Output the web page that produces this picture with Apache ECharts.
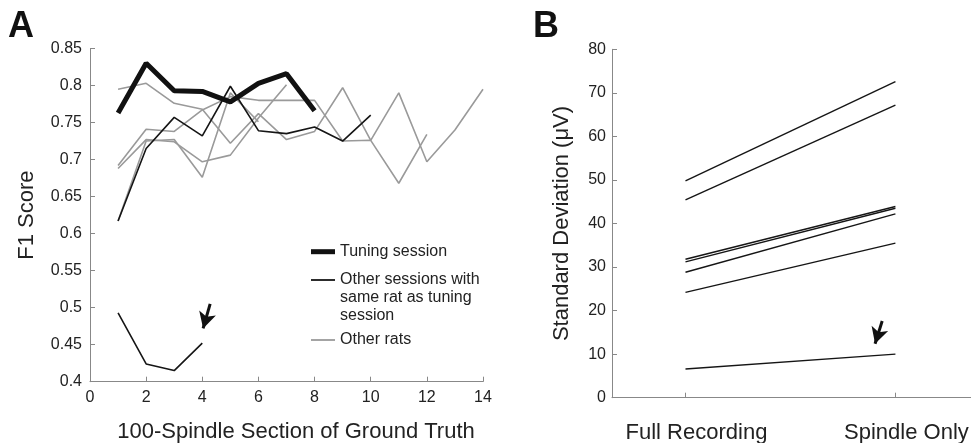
<!DOCTYPE html>
<html>
<head>
<meta charset="utf-8">
<script src="https://cdn.jsdelivr.net/npm/echarts@6/dist/echarts.min.js"></script>
<style>
  html, body { margin: 0; padding: 0; background: #fff; }
  #chart { width: 971px; height: 443px; }
</style>
</head>
<body>
<div id="chart"></div>
<script>
// panel A: F1 score per 100-spindle section
const tuning = [0.763, 0.830, 0.793, 0.792, 0.778, 0.803, 0.816, 0.766];
const sameRatA = [0.617, 0.715, 0.757, 0.732, 0.799, 0.739, 0.735, 0.744, 0.725, 0.760];
const sameRatB = [0.493, 0.424, 0.415, 0.452];
const otherRat1 = [0.795, 0.803, 0.776, 0.768, 0.722, 0.762, 0.727, 0.738, 0.797, 0.726, 0.790, 0.697, 0.740, 0.795];
const otherRat2 = [0.692, 0.741, 0.738, 0.767, 0.785, 0.780, 0.780, 0.780, 0.725, 0.726, 0.668, 0.734];
const otherRat3 = [0.688, 0.727, 0.724, 0.697, 0.706, 0.756, 0.801];
const otherRat4 = [0.617, 0.725, 0.727, 0.676, 0.790, 0.751];

// panel B: standard deviation, full recording vs spindle only
const conditions = ['Full Recording', 'Spindle Only'];
const fullRecording = [49.8, 45.4, 31.8, 31.2, 28.8, 24.2, 6.6];
const spindleOnly = [72.6, 67.2, 43.9, 43.5, 42.2, 35.5, 10.0];

const FONT = '"Liberation Sans", Arial, sans-serif';
const TEXT = '#222';
const AXIS = '#888';

const legendNames = ['Tuning session', 'Other sessions with same rat as tuning session', 'Other rats'];

function pts(arr) {
    return arr.map((v, i) => [i + 1, v]);
}

function lineA(name, data, color, width) {
    return {
        name: name,
        type: 'line',
        xAxisIndex: 0,
        yAxisIndex: 0,
        data: pts(data),
        symbol: 'none',
        lineStyle: {color: color, width: width},
        itemStyle: {color: color},
        silent: true
    };
}

function arrowLine(from, to) {
    return {
        silent: true,
        symbol: ['none', 'arrow'],
        symbolSize: [13, 16],
        label: {show: false},
        lineStyle: {color: '#111', width: 3, type: 'solid'},
        data: [[{coord: from}, {coord: to}]]
    };
}

const axisCommon = {
    axisLine: {show: true, lineStyle: {color: AXIS, width: 1}},
    axisTick: {show: true, inside: true, length: 5, lineStyle: {color: AXIS}},
    splitLine: {show: false},
    axisLabel: {color: TEXT, fontSize: 16, fontFamily: FONT},
    nameTextStyle: {color: TEXT, fontSize: 22, fontFamily: FONT}
};

const series = [
    lineA(legendNames[2], otherRat1, '#9a9a9a', 1.6),
    lineA(legendNames[2], otherRat2, '#9a9a9a', 1.6),
    lineA(legendNames[2], otherRat3, '#9a9a9a', 1.6),
    lineA(legendNames[2], otherRat4, '#9a9a9a', 1.6),
    lineA(legendNames[1], sameRatA, '#151515', 1.6),
    Object.assign(lineA(legendNames[1], sameRatB, '#151515', 1.6), {
        markLine: arrowLine([4.28, 0.505], [4.03, 0.472])
    }),
    lineA(legendNames[0], tuning, '#111', 5)
];

fullRecording.forEach((v, i) => {
    const s = {
        name: 'Rat ' + (i + 1),
        type: 'line',
        xAxisIndex: 1,
        yAxisIndex: 1,
        data: [[1, v], [2, spindleOnly[i]]],
        symbol: 'none',
        lineStyle: {color: '#151515', width: 1.4},
        silent: true
    };
    if (i === fullRecording.length - 1) {
        s.markLine = arrowLine([1.937, 17.6], [1.903, 12.4]);
    }
    series.push(s);
});

function legendBox(name, top, barHeight, extra) {
    return Object.assign({
        data: [{name: name, icon: 'rect'}],
        orient: 'vertical',
        left: 311,
        top: top,
        padding: 0,
        itemWidth: 24,
        itemHeight: barHeight,
        selectedMode: false,
        textStyle: {color: TEXT, fontSize: 16, fontFamily: FONT, lineHeight: 18}
    }, extra || {});
}

const chart = echarts.init(document.getElementById('chart'), null, {renderer: 'canvas'});

chart.setOption({
    animation: false,
    backgroundColor: '#fff',
    title: [
        {text: 'A', left: 8, top: 9, padding: 0, textStyle: {fontSize: 36, fontWeight: 'bold', color: '#111', fontFamily: FONT}},
        {text: 'B', left: 533, top: 9, padding: 0, textStyle: {fontSize: 36, fontWeight: 'bold', color: '#111', fontFamily: FONT}}
    ],
    grid: [
        {left: 90, right: 488, top: 48.5, bottom: 61.3, outerBoundsMode: 'none'},
        {left: 612, right: 0, top: 49.3, bottom: 45.3, outerBoundsMode: 'none'}
    ],
    legend: [
        legendBox(legendNames[0], 242.7, 5),
        // two blank lines on top keep the icon level with the first text line
        legendBox(legendNames[1], 235, 1.8, {
            formatter: () => '\n\nOther sessions with\nsame rat as tuning\nsession'
        }),
        legendBox(legendNames[2], 331, 1.8)
    ],
    xAxis: [
        Object.assign({}, axisCommon, {
            gridIndex: 0,
            type: 'value',
            min: 0,
            max: 14,
            interval: 2,
            name: '100-Spindle Section of Ground Truth',
            nameLocation: 'middle',
            nameGap: 39,
            nameTextStyle: {color: TEXT, fontSize: 22, fontFamily: FONT, padding: [0, 0, 0, 19]},
            axisLabel: {color: TEXT, fontSize: 16, fontFamily: FONT, margin: 8}
        }),
        Object.assign({}, axisCommon, {
            gridIndex: 1,
            type: 'value',
            min: 0.65,
            max: 2.36,
            axisTick: {show: true, inside: true, length: 5, lineStyle: {color: AXIS}, customValues: [1, 2]},
            axisLabel: {
                color: TEXT, fontSize: 22, fontFamily: FONT, margin: 24,
                customValues: [1, 2],
                padding: [0, 0, 0, 22],
                formatter: v => conditions[Math.round(v) - 1] || ''
            }
        })
    ],
    yAxis: [
        Object.assign({}, axisCommon, {
            gridIndex: 0,
            type: 'value',
            min: 0.4,
            max: 0.85,
            interval: 0.05,
            name: 'F1 Score',
            nameLocation: 'middle',
            nameGap: 52,
            axisLabel: {
                color: TEXT, fontSize: 16, fontFamily: FONT, margin: 8,
                formatter: v => String(+v.toFixed(2))
            }
        }),
        Object.assign({}, axisCommon, {
            gridIndex: 1,
            type: 'value',
            min: 0,
            max: 80,
            interval: 10,
            name: 'Standard Deviation (\u03bcV)',
            nameLocation: 'middle',
            nameGap: 39,
            axisLabel: {color: TEXT, fontSize: 16, fontFamily: FONT, margin: 6}
        })
    ],
    series: series
});
</script>
</body>
</html>
